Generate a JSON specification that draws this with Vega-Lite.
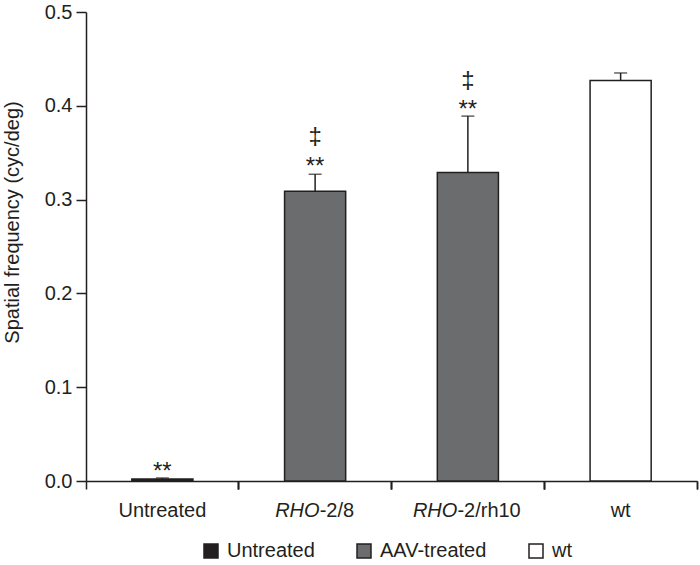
{
  "$schema": "https://vega.github.io/schema/vega-lite/v6.json",
  "width": 611,
  "height": 469,
  "autosize": {"type": "none"},
  "padding": {"left": 86, "top": 12, "right": 3, "bottom": 84},
  "background": "white",
  "config": {
    "view": {"stroke": null},
    "font": "Liberation Sans",
    "axis": {
      "domainColor": "#231f20", "tickColor": "#231f20", "labelColor": "#231f20", "titleColor": "#231f20",
      "domainWidth": 1.5, "tickWidth": 1.5, "labelFont": "Liberation Sans", "labelFontSize": 20,
      "titleFont": "Liberation Sans", "titleFontSize": 20, "titleFontWeight": "normal", "grid": false
    }
  },
  "datasets": {
    "bars": [
      {"group": "Untreated", "type": "Untreated", "mean": 0.002, "upper": 0.0032},
      {"group": "RHO-2/8", "type": "AAV-treated", "mean": 0.309, "upper": 0.327},
      {"group": "RHO-2/rh10", "type": "AAV-treated", "mean": 0.329, "upper": 0.389},
      {"group": "wt", "type": "wt", "mean": 0.427, "upper": 0.435}
    ],
    "notes": [
      {"group": "Untreated", "label": "**", "pos": 0.0026},
      {"group": "RHO-2/8", "label": "**", "pos": 0.3268},
      {"group": "RHO-2/8", "label": "‡", "pos": 0.359},
      {"group": "RHO-2/rh10", "label": "**", "pos": 0.388},
      {"group": "RHO-2/rh10", "label": "‡", "pos": 0.4186}
    ]
  },
  "data": {"name": "bars"},
  "layer": [
    {
      "mark": {"type": "bar", "width": {"band": 0.4}, "stroke": "#231f20", "strokeWidth": 1.5},
      "encoding": {
        "x": {
          "field": "group", "type": "nominal",
          "sort": ["Untreated", "RHO-2/8", "RHO-2/rh10", "wt"],
          "scale": {"paddingInner": 0, "paddingOuter": 0},
          "axis": {"orient": "bottom", "bandPosition": 0, "labels": false, "ticks": true, "tickSize": 8, "title": null, "domain": true}
        },
        "y": {
          "field": "mean", "type": "quantitative",
          "scale": {"domain": [0, 0.5]},
          "axis": {"values": [0, 0.1, 0.2, 0.3, 0.4, 0.5], "format": ".1f", "tickSize": 10, "labelPadding": 4, "title": "Spatial frequency (cyc/deg)", "titlePadding": 22, "titleY": 210}
        },
        "fill": {
          "field": "type", "type": "nominal",
          "scale": {"domain": ["Untreated", "AAV-treated", "wt"], "range": ["#231f20", "#6b6c6e", "#ffffff"]},
          "legend": {
            "orient": "none", "legendX": 115, "legendY": 529, "direction": "horizontal", "title": null,
            "symbolType": "square", "symbolSize": 196, "symbolStrokeColor": "#231f20", "symbolStrokeWidth": 1.5,
            "labelFontSize": 20, "labelFont": "Liberation Sans", "labelColor": "#231f20", "labelOffset": 6,
            "columnPadding": 39, "padding": 0
          }
        }
      }
    },
    {
      "mark": {"type": "rule", "color": "#231f20", "strokeWidth": 1.5},
      "encoding": {
        "x": {
          "field": "group", "type": "nominal",
          "sort": ["Untreated", "RHO-2/8", "RHO-2/rh10", "wt"],
          "axis": {
            "orient": "bottom", "bandPosition": 1, "domain": false, "tickSize": 8, "labelPadding": 11,
            "labelAngle": 0, "labelBaseline": "top",
            "labelFontStyle": "italic", "labelAlign": "right", "title": null,
            "labelExpr": "indexof(datum.value,'RHO')===0 ? 'RHO' : ''",
            "labelOffset": {"condition": {"test": "datum.value === 'RHO-2/8'", "value": 4.5}, "value": -10.5}
          }
        },
        "y": {"field": "mean", "type": "quantitative"},
        "y2": {"field": "upper"}
      }
    },
    {
      "mark": {"type": "tick", "orient": "horizontal", "size": 13, "thickness": 1.5, "color": "#231f20"},
      "encoding": {
        "x": {
          "field": "group", "type": "nominal",
          "sort": ["Untreated", "RHO-2/8", "RHO-2/rh10", "wt"],
          "axis": {
            "orient": "bottom", "bandPosition": 1, "domain": false, "tickSize": 8, "labelPadding": 11, "title": null,
            "labelAngle": 0, "labelBaseline": "top",
            "labelAlign": {"condition": {"test": "indexof(datum.value,'RHO')===0", "value": "left"}, "value": "center"},
            "labelExpr": "indexof(datum.value,'RHO')===0 ? slice(datum.value,3) : datum.value",
            "labelOffset": {"condition": [{"test": "datum.value === 'RHO-2/8'", "value": 4.5}, {"test": "datum.value === 'RHO-2/rh10'", "value": -10.5}], "value": 0}
          }
        },
        "y": {"field": "upper", "type": "quantitative"}
      }
    },
    {
      "data": {"name": "notes"},
      "transform": [{"filter": "datum.label === '**'"}],
      "mark": {"type": "text", "fontSize": 24, "baseline": "alphabetic", "color": "#231f20", "font": "Liberation Sans"},
      "encoding": {
        "x": {"field": "group", "type": "nominal", "sort": ["Untreated", "RHO-2/8", "RHO-2/rh10", "wt"], "axis": null},
        "y": {"field": "pos", "type": "quantitative"},
        "text": {"field": "label"}
      }
    },
    {
      "data": {"name": "notes"},
      "transform": [{"filter": "datum.label !== '**'"}],
      "mark": {"type": "text", "fontSize": 24, "baseline": "alphabetic", "color": "#231f20", "font": "Liberation Sans"},
      "encoding": {
        "x": {"field": "group", "type": "nominal", "sort": ["Untreated", "RHO-2/8", "RHO-2/rh10", "wt"], "axis": null},
        "y": {"field": "pos", "type": "quantitative"},
        "text": {"field": "label"}
      }
    }
  ],
  "resolve": {"axis": {"x": "independent"}}
}
